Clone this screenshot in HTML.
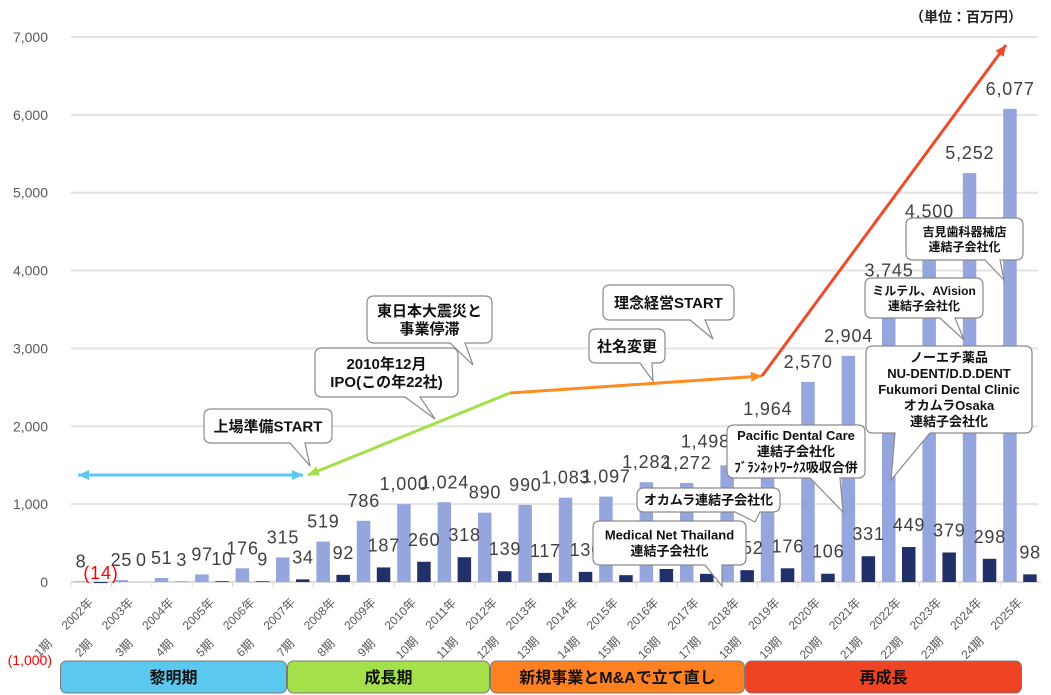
<!DOCTYPE html>
<html><head><meta charset="utf-8"><style>
body{margin:0;background:#fff;}
svg{display:block;font-family:"Liberation Sans","Noto Sans CJK JP",sans-serif;}
</style></head><body>
<svg id="chart" width="1051" height="695" viewBox="0 0 1051 695">
<g id="grid"></g><g id="bars"></g><g id="labels"></g><g id="arrows"></g><g id="callouts"></g><g id="phases"></g>
<text x="1022" y="22" text-anchor="end" font-size="14" font-weight="bold" fill="#222">（単位：百万円）</text>
</svg>
<script>
const years=["2002年","2003年","2004年","2005年","2006年","2007年","2008年","2009年","2010年","2011年","2012年","2013年","2014年","2015年","2016年","2017年","2018年","2019年","2020年","2021年","2022年","2023年","2024年","2025年"];
const periods=["1期","2期","3期","4期","5期","6期","7期","8期","9期","10期","11期","12期","13期","14期","15期","16期","17期","18期","19期","20期","21期","22期","23期","24期"];
const sales=[8,25,51,97,176,315,519,786,1000,1024,890,990,1083,1097,1282,1272,1498,1964,2570,2904,3745,4500,5252,6077];
const profit=[-14,0,3,10,9,34,92,187,260,318,139,117,130,88,167,105,152,176,106,331,449,379,298,98];
const hiddenProfitLabels=[13,14,15];
const yTicks=[0,1000,2000,3000,4000,5000,6000,7000];
const NS="http://www.w3.org/2000/svg";
const X0=71,CW=40.4,Y0=582,K=0.07786;
function y(v){return Y0-v*K;}
function catX(i){return X0+i*CW;}
function mk(tag,attrs,parent,txt){const e=document.createElementNS(NS,tag);for(const k in attrs)e.setAttribute(k,attrs[k]);if(txt!==undefined)e.textContent=txt;parent.appendChild(e);return e;}
function fmt(v){return v<0?"("+Math.abs(v).toLocaleString("en-US")+")":v.toLocaleString("en-US");}
const grid=document.getElementById("grid"),bars=document.getElementById("bars"),labels=document.getElementById("labels");
yTicks.forEach(t=>{
  const l=mk("line",{x1:X0,x2:1038,y1:y(t),y2:y(t),stroke:"#e3e3e3","stroke-width":2},grid);
  
  
  const tx=mk("text",{x:48,y:y(t)+5,"text-anchor":"end","font-size":14,fill:"#595959"},grid,t.toLocaleString("en-US"));
  
  
});
const neg=mk("text",{x:52,y:665,"text-anchor":"end","font-size":14,fill:"#ff0000"},grid,"(1,000)");


const ax=mk("line",{x1:X0,x2:1041,y1:Y0,y2:Y0,stroke:"#d9d9d9","stroke-width":1.5},grid);


years.forEach((yr,i)=>{
  const L=catX(i),cx=L+CW/2;
  const tk=mk("line",{x1:L,x2:L,y1:Y0,y2:Y0+5,stroke:"#d9d9d9"},grid);
  
  
  const a=mk("text",{x:cx-14,y:618,"text-anchor":"middle","font-size":12,fill:"#595959",transform:`rotate(-45 ${cx-14} 614)`},grid,yr);
  
  
  const p=mk("text",{x:cx-48,y:652,"text-anchor":"middle","font-size":12,fill:"#595959",transform:`rotate(-45 ${cx-48} 648)`},grid,periods[i]);
  
  
  const s=sales[i];
  const b=mk("rect",{x:L+3,y:Math.min(y(s),Y0),width:13.5,height:Math.abs(Y0-y(s)),fill:"#95a5dd"},bars);
  
  
  const pr=profit[i];
  const d=mk("rect",{x:L+23,y:Math.min(y(pr),Y0),width:13.5,height:Math.abs(Y0-y(pr)),fill:"#22306a"},bars);
  
  
  const off=(i===16)?-22:0;
  const sl=mk("text",{x:L+10+off,y:Math.min(y(s),Y0)-14+(i===16?-4:0),"text-anchor":"middle","font-size":18,"letter-spacing":"0.8",fill:"#404040"},labels,fmt(s));
  
  
  if(hiddenProfitLabels.indexOf(i)<0){
    const py=pr<0?579:Math.min(y(pr),Y0)-16;
    const pl=mk("text",{x:L+30,y:py,"text-anchor":"middle","font-size":18,"letter-spacing":"0.8",fill:pr<0?"#ff0000":"#404040"},labels,fmt(pr));
    
    
  }
});
const arrows=document.getElementById("arrows");
function arrowHead(x1,y1,x2,y2,col,par){const a=Math.atan2(y2-y1,x2-x1),s=11,w=5;
  const p=[[x2,y2],[x2-s*Math.cos(a)+w*Math.sin(a),y2-s*Math.sin(a)-w*Math.cos(a)],[x2-s*Math.cos(a)-w*Math.sin(a),y2-s*Math.sin(a)+w*Math.cos(a)]];
  return mk("polygon",{points:p.map(q=>q.join(",")).join(" "),fill:col},par);}
function arrow(x1,y1,x2,y2,col,name,both){
  const g=mk("g",{},arrows);
  
  
  mk("line",{x1:x1,y1:y1,x2:x2,y2:y2,stroke:col,"stroke-width":3},g);
  arrowHead(x1,y1,x2,y2,col,g);
  if(both)arrowHead(x2,y2,x1,y1,col,g);
}
arrow(78,475,303,475,"#5bc8f0","dawn-period-arrow",true);
arrow(510,393,308,475,"#a3e04a","growth-period-arrow",false);
arrow(510,393,762,376,"#ff8a20","rebuild-period-arrow",false);
arrow(762,376,1006,45,"#f04a28","regrowth-arrow",false);
const callouts=document.getElementById("callouts");
function callout(name,x,y2,w,h,b1,b2,tx,ty,lines,fs){
  const g=mk("g",{},callouts);
  
  
  const r=7,X2=x+w,Y2=y2+h;
  const d=`M${x+r},${y2} H${X2-r} Q${X2},${y2} ${X2},${y2+r} V${Y2-r} Q${X2},${Y2} ${X2-r},${Y2} H${b2} L${tx},${ty} L${b1},${Y2} H${x+r} Q${x},${Y2} ${x},${Y2-r} V${y2+r} Q${x},${y2} ${x+r},${y2} Z`;
  mk("path",{d:d,fill:"#fff",stroke:"#8a8a8a","stroke-width":1.2},g);
  const lh=fs+3,start=y2+h/2-(lines.length-1)*lh/2+fs*0.36;
  lines.forEach((t,k)=>mk("text",{x:x+w/2,y:start+k*lh,"text-anchor":"middle","font-size":fs,"font-weight":"bold",fill:"#111"},g,t));
}
callout("callout-listing-prep",204,409,128,34,290,305,310,466,["上場準備START"],15);
callout("callout-ipo",315,348,143,49,405,420,435,419,["2010年12月","IPO(この年22社)"],15);
callout("callout-earthquake",367,296,125,47,450,465,473,365,["東日本大震災と","事業停滞"],15);
callout("callout-philosophy",603,285,131,35,690,705,713,339,["理念経営START"],15);
callout("callout-rename",589,329,76,34,640,652,653,381,["社名変更"],15);
callout("callout-milutel",865,278,118,40,940,955,964,340,["ミルテル、AVision","連結子会社化"],12);
callout("callout-noechi",866,346,166,87,895,930,891,480,["ノーエチ薬品","NU-DENT/D.D.DENT","Fukumori Dental Clinic","オカムラOsaka","連結子会社化"],13);
callout("callout-pacific",727,425,138,53,810,840,843,512,["Pacific Dental Care","連結子会社化","ﾌﾞﾗﾝﾈｯﾄﾜｰｸｽ吸収合併"],13);
callout("callout-okamura",637,488,143,24,735,760,755,522,["オカムラ連結子会社化"],13);
callout("callout-medical-net",593,521,153,44,705,722,722,586,["Medical Net Thailand","連結子会社化"],13);
callout("callout-yoshimi",906,218,117,42,985,1000,1004,280,["吉見歯科器械店","連結子会社化"],12);
const phases=document.getElementById("phases");
[["黎明期",60,287,"#5bc8f0","phase-dawn"],["成長期",287,490,"#a3e04a","phase-growth"],["新規事業とM&Aで立て直し",490,745,"#ff8020","phase-rebuild"],["再成長",745,1022,"#ee4424","phase-regrowth"]].forEach(p=>{
  const g=mk("g",{},phases);
  
  
  mk("rect",{x:p[1]+0.5,y:661,width:p[2]-p[1]-1,height:32,rx:6,fill:p[3],stroke:"#7a7a7a","stroke-width":1},g);
  mk("text",{x:(p[1]+p[2])/2,y:683,"text-anchor":"middle","font-size":16,"font-weight":"bold",fill:"#111"},g,p[0]);
});
</script>
</body></html>
